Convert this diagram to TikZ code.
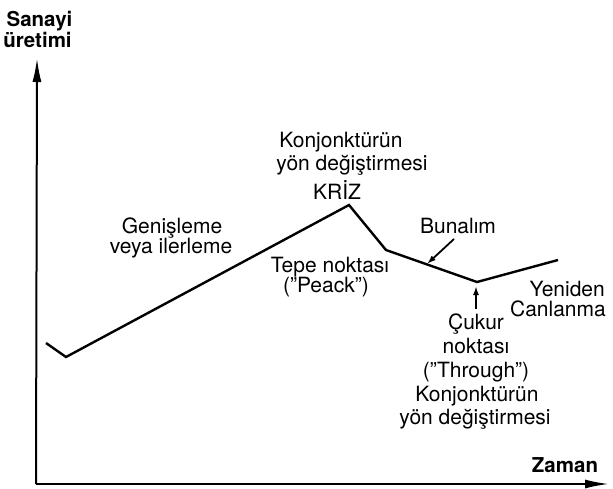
\documentclass[tikz,border=0pt]{standalone}
\usepackage{fontspec}
\setmainfont{TeX Gyre Heros}
\usetikzlibrary{arrows.meta}
\tikzset{
  lbl/.style={font=\fontsize{21}{24}\selectfont, inner sep=0pt, anchor=base},
  blbl/.style={lbl, font=\fontsize{20.5}{24}\selectfont\bfseries},
  axis/.style={line width=2pt, -{Latex[length=24pt,width=9pt]}},
  curve/.style={line width=2.4pt, line join=miter},
  pointer/.style={line width=1.8pt, -{Latex[length=9pt,width=6pt]}}
}
\begin{document}
\begin{tikzpicture}[x=1pt,y=-1pt]
\useasboundingbox (0,0) rectangle (613,488);
% axes
\coordinate (O) at (36,484);
\coordinate (ytip) at (37,58);
\coordinate (xtip) at (609,484);
\draw[axis] (O) -- (ytip);
\draw[axis] (O) -- (xtip);
% curve points
\coordinate (s) at (46,343);
\coordinate (lo) at (66,357);
\coordinate (peak) at (349,205);
\coordinate (kink) at (386,250);
\coordinate (trough) at (477,282);
\coordinate (e) at (558,260);
\draw[curve] (s) -- (lo) -- (peak) -- (kink) -- (trough) -- (e);
% pointers
\coordinate (bt) at (454,239);
\coordinate (bh) at (427,264);
\draw[pointer] (bt) -- (bh);
\coordinate (ct) at (476,309);
\coordinate (ch) at (476,286);
\draw[pointer] (ct) -- (ch);
% labels
\node[blbl] (sanayi) at (39.5,26) {Sanayi};
\node[blbl] (uretimi) at (37.5,47) {üretimi};
\node[lbl] (konj1) at (341,147) {Konjonktürün};
\node[lbl] (yon1) at (352,170) {yön değiştirmesi};
\node[lbl] (kriz) at (337,199) {KRİZ};
\node[lbl] (gen1) at (172,233) {Genişleme};
\node[lbl] (gen2) at (171,253) {veya ilerleme};
\node[lbl] (tepe1) at (330,272) {Tepe noktası};
\node[lbl] (tepe2) at (326,292) {("Peack")};
\node[lbl] (bunalim) at (458,233) {Bunalım};
\node[lbl, anchor=base east] (yeniden) at (605,296) {Yeniden};
\node[lbl, anchor=base east] (canlanma) at (606,316) {Canlanma};
\node[lbl] (cukur) at (476,329) {Çukur};
\node[lbl] (nokta) at (476,353) {noktası};
\node[lbl] (through) at (476,377) {("Through")};
\node[lbl] (konj2) at (477,401) {Konjonktürün};
\node[lbl] (yon2) at (475,424) {yön değiştirmesi};
\node[blbl] (zaman) at (565,472) {Zaman};
\end{tikzpicture}
\end{document}
